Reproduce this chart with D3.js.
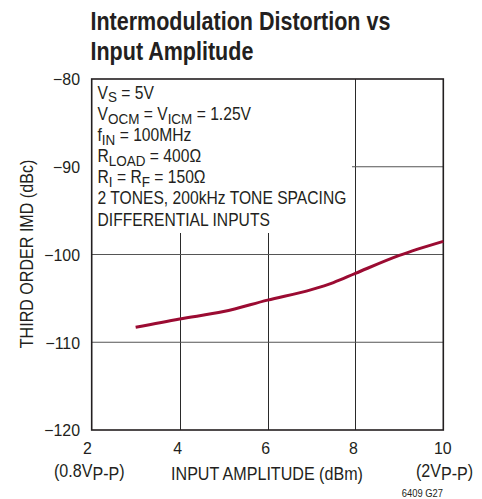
<!DOCTYPE html>
<html><head><meta charset="utf-8">
<script src="https://cdn.jsdelivr.net/npm/d3@7"></script>
<style>
body{margin:0;background:#fff;}
svg text{font-family:"Liberation Sans",Arial,sans-serif;fill:#231f20;}
</style></head>
<body><svg id="c" width="482" height="499"></svg>
<script>
const inputAmplitude = [3, 4, 5, 6, 7, 7.5, 8, 9, 10];
const imd = [-108.3, -107.35, -106.5, -105.2, -104.0, -103.2, -102.15, -100.1, -98.5];
const xTicks = [2, 4, 6, 8, 10];
const yTicks = [-80, -90, -100, -110, -120];
const titleLines = ["Intermodulation Distortion vs", "Input Amplitude"];
const noteLines = [
  [["V",""],["S","sub"],[" = 5V",""]],
  [["V",""],["OCM","sub"],[" = V",""],["ICM","sub"],[" = 1.25V",""]],
  [["f",""],["IN","sub"],[" = 100MHz",""]],
  [["R",""],["LOAD","sub"],[" = 400Ω",""]],
  [["R",""],["I","sub"],[" = R",""],["F","sub"],[" = 150Ω",""]],
  [["2 TONES, 200kHz TONE SPACING",""]],
  [["DIFFERENTIAL INPUTS",""]]
];
const xLabel = "INPUT AMPLITUDE (dBm)";
const yLabel = "THIRD ORDER IMD (dBc)";

const svg = d3.select("#c");
const L = 91.7, R = 443.3, T = 79, B = 430;
const x = d3.scaleLinear().domain([2, 10]).range([L, R]);
const y = d3.scaleLinear().domain([-120, -80]).range([B, T]);

function measure(str, size, weight) {
  const t = svg.append("text").style("font-size", size + "px").style("font-weight", weight || "normal").text(str);
  const w = t.node().getComputedTextLength();
  t.remove();
  return w;
}
function sq(k, ax) { return `translate(${ax},0) scale(${k},1) translate(${-ax},0)`; }

// condensed factors
const kTitle = 300 / measure(titleLines[0], 26.5, "bold");
const kNote = 249 / measure("2 TONES, 200kHz TONE SPACING", 18);
const kLab = 192 / measure(xLabel, 18);
const kTick = 27 / measure("\u221280", 16.5);

// title
svg.selectAll("text.title").data(titleLines).enter().append("text")
  .attr("x", 90.5).attr("y", (d, i) => 30 + i * 30)
  .attr("transform", sq(kTitle, 90.5))
  .style("font-weight", "bold").style("font-size", "26.5px")
  .text(d => d);

// grid
const g = svg.append("g");
g.selectAll("line.vg").data(xTicks.slice(1, -1)).enter().append("line")
  .attr("x1", d => Math.round(x(d)) + 0.5).attr("x2", d => Math.round(x(d)) + 0.5)
  .attr("y1", T).attr("y2", B).attr("stroke", "#2a2a2a").attr("stroke-width", 1);
g.selectAll("line.hg").data(yTicks.slice(1, -1)).enter().append("line")
  .attr("x1", L).attr("x2", R).attr("y1", d => y(d)).attr("y2", d => y(d))
  .attr("stroke", "#555").attr("stroke-width", 1.2);

// note box (white background)
svg.append("rect").attr("x", L).attr("y", T).attr("width", 352 - L).attr("height", 233 - T).attr("fill", "#fff");

noteLines.forEach((line, i) => {
  const t = svg.append("text").attr("x", 97.5).attr("y", 99 + i * 21.1)
    .attr("transform", sq(kNote, 97.5)).style("font-size", "18px");
  line.forEach((seg, j) => {
    const s = t.append("tspan").text(seg[0]);
    if (seg[1] === "sub") s.attr("dy", 3.5).style("font-size", "15.5px");
    else if (j > 0 && line[j - 1][1] === "sub") s.attr("dy", -3.5);
  });
});

// frame
svg.append("rect").attr("x", L).attr("y", T).attr("width", R - L).attr("height", B - T)
  .attr("fill", "none").attr("stroke", "#231f20").attr("stroke-width", 1.6);

// curve
const line = d3.line().x(d => x(d[0])).y(d => y(d[1])).curve(d3.curveMonotoneX);
svg.append("path").datum(inputAmplitude.map((v, i) => [v, imd[i]]))
  .attr("d", line).attr("fill", "none").attr("stroke", "#9b0b32").attr("stroke-width", 3);

// y tick labels
svg.selectAll("text.yt").data(yTicks).enter().append("text")
  .attr("x", 80).attr("y", d => y(d) + 6.5).attr("text-anchor", "end")
  .attr("transform", sq(kTick, 80))
  .style("font-size", "16.5px").text(d => "\u2212" + Math.abs(d));

// x tick labels
svg.selectAll("text.xt").data(xTicks).enter().append("text")
  .attr("x", d => x(d) - (d === 2 ? 4.5 : d === 10 ? 0.5 : 2)).attr("y", 454).attr("text-anchor", "middle")
  .attr("transform", d => sq(kTick, x(d)))
  .style("font-size", "16.5px").text(d => d);

// x sublabels
function sub(x0, main, s, close) {
  const t = svg.append("text").attr("x", x0).attr("y", 477).attr("transform", sq(kLab, x0)).style("font-size", "18px");
  t.append("tspan").text(main);
  t.append("tspan").attr("dy", 3).text(s);
  t.append("tspan").attr("dy", -3).text(close);
}
sub(54, "(0.8V", "P-P", ")");
sub(416, "(2V", "P-P", ")");

svg.append("text").attr("x", 267).attr("y", 480).attr("text-anchor", "middle")
  .attr("transform", sq(kLab, 267))
  .style("font-size", "18px").text(xLabel);

svg.append("text").attr("transform", `translate(33,254) rotate(-90) scale(${kLab},1)`).attr("text-anchor", "middle")
  .style("font-size", "18px").text(yLabel);

svg.append("text").attr("x", 443).attr("y", 497.5).attr("text-anchor", "end")
  .attr("transform", sq(kLab, 443))
  .style("font-size", "10.5px").text("6409 G27");
</script></body></html>
